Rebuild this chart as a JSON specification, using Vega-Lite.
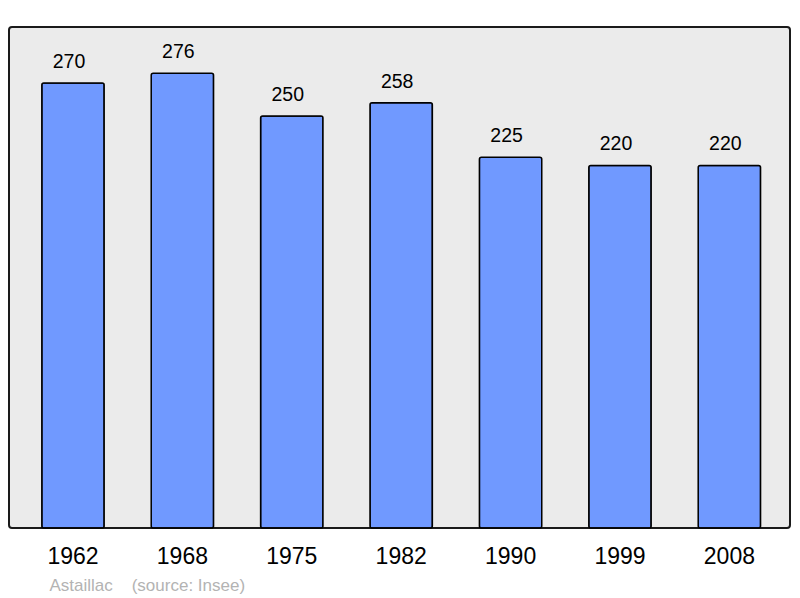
{
  "$schema": "https://vega.github.io/schema/vega-lite/v6.json",
  "width": 781,
  "height": 501,
  "autosize": "none",
  "padding": {"left": 9, "top": 27, "right": 10, "bottom": 70},
  "background": "white",
  "config": {
    "font": "Liberation Sans",
    "view": {"fill": "#ebebeb", "stroke": "#1a1a1a", "strokeWidth": 2, "cornerRadius": 3}
  },
  "data": {
    "values": [
      {"year": "1962", "pop": 270},
      {"year": "1968", "pop": 276},
      {"year": "1975", "pop": 250},
      {"year": "1982", "pop": 258},
      {"year": "1990", "pop": 225},
      {"year": "1999", "pop": 220},
      {"year": "2008", "pop": 220}
    ]
  },
  "encoding": {
    "x": {
      "field": "year",
      "type": "nominal",
      "sort": null,
      "scale": {"paddingInner": 0.43, "paddingOuter": 0.2845, "align": 0.527},
      "axis": {
        "title": "Astaillac\u00a0\u00a0\u00a0\u00a0(source: Insee)",
        "titleX": 40,
        "titleY": 57,
        "titleAlign": "left",
        "titleBaseline": "middle",
        "titleAnchor": null,
        "titleFontSize": 17,
        "titleFontWeight": "normal",
        "titleColor": "#b3b3b3",
        "labelAngle": 0,
        "labelFontSize": 23,
        "labelColor": "#000000",
        "labelPadding": 17,
        "ticks": false,
        "domain": false,
        "grid": false
      }
    },
    "y": {
      "field": "pop",
      "type": "quantitative",
      "scale": {"domain": [0, 304], "nice": false},
      "axis": null
    }
  },
  "layer": [
    {
      "mark": {"type": "bar", "fill": "#7099ff", "stroke": "#000000", "strokeWidth": 1.5, "cornerRadius": 2}
    },
    {
      "mark": {"type": "text", "baseline": "alphabetic", "dy": -15, "dx": -4, "fontSize": 19.5, "color": "#000000"},
      "encoding": {"text": {"field": "pop", "type": "quantitative"}}
    }
  ]
}
